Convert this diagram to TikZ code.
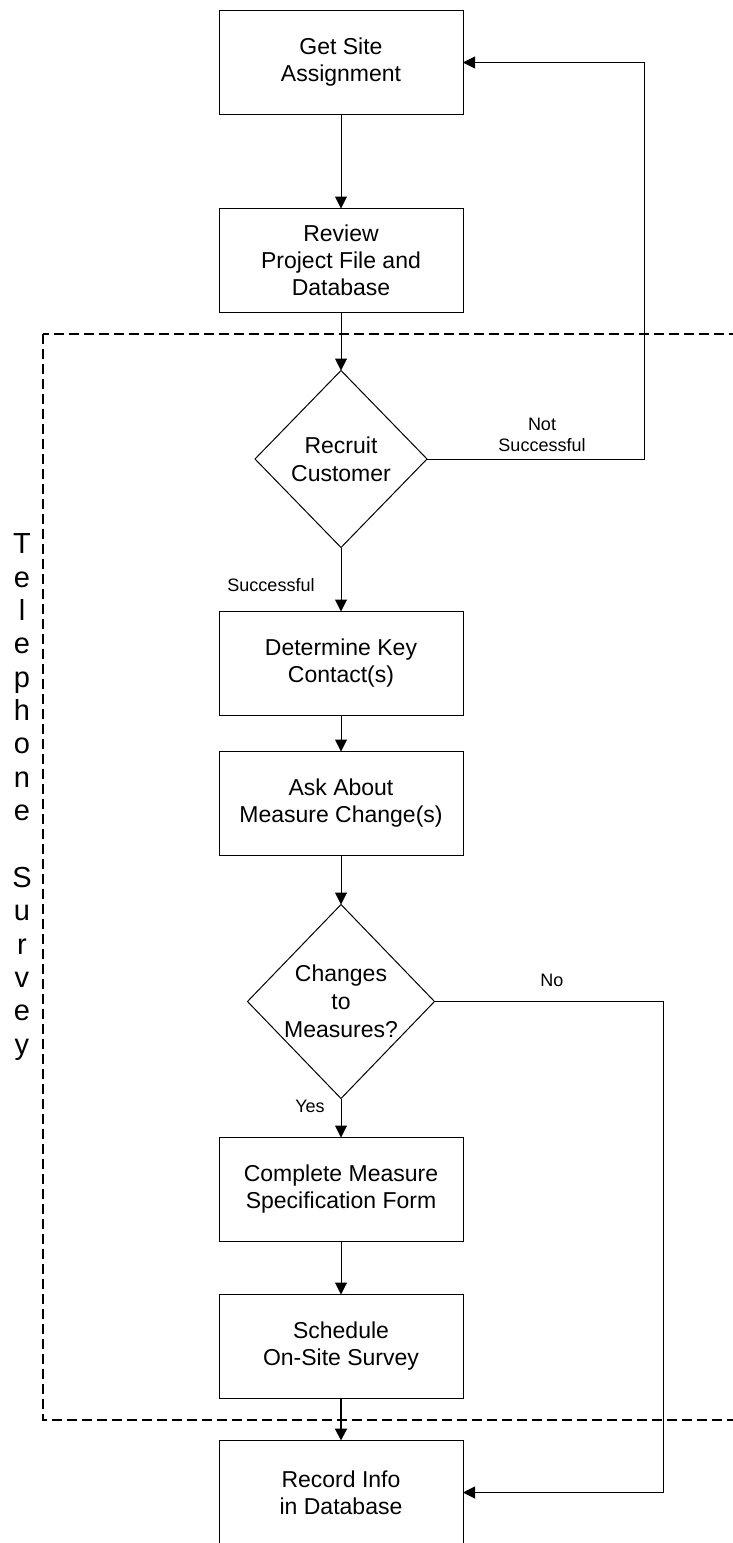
\documentclass[tikz,border=0pt]{standalone}
\usepackage{fontspec}
\setmainfont{Liberation Sans}
\usepackage{tikz}
\usetikzlibrary{positioning,shapes.geometric,arrows.meta}

\begin{document}
\begin{tikzpicture}[
        x=0.5pt, y=-0.5pt,
        node distance=30pt,
        box/.style={rectangle, draw, line width=0.5pt, minimum width=122pt, minimum height=52pt, inner sep=0pt, outer sep=0pt, align=center, font=\fontsize{11.5}{13.5}\selectfont},
        decision/.style={diamond, draw, line width=0.5pt, aspect=1, inner sep=0pt, outer sep=0pt, align=center, font=\fontsize{11.5}{14}\selectfont},
        lbl/.style={align=center, inner sep=0pt, font=\fontsize{9}{10.5}\selectfont},
        arrow/.style={-{Triangle[length=6pt,width=6pt]}, line width=0.5pt},
        survey/.style={dashed, dash pattern=on 5pt off 2.5pt, line width=0.7pt}
    ]
    \useasboundingbox (0,0) rectangle (733,1543);

    % Before the call
    \node[box] (get) at (341,62.5) {Get Site\\Assignment};
    \node[box, below=47pt of get] (review) {Review\\Project File and\\Database};

    % Telephone survey
    \node[decision, minimum width=86pt, minimum height=88.5pt, below=29pt of review] (recruit) {Recruit\\Customer};
    \node[box, below=32pt of recruit] (contact) {Determine Key\\Contact(s)};
    \node[box, below=18pt of contact] (ask) {Ask About\\Measure Change(s)};
    \node[decision, minimum width=93.5pt, minimum height=97pt, below=24.5pt of ask] (changes) {Changes\\to\\Measures?};
    \node[box, below=19.5pt of changes] (form) {Complete Measure\\Specification Form};
    \node[box, below=26.5pt of form] (schedule) {Schedule\\On-Site Survey};

    % After the survey
    \node[box, below=21pt of schedule] (record) {Record Info\\in Database};

    % Survey frame
    \draw[survey] (43,334) rectangle (745,1420);
    \node[align=center, inner sep=0pt, font=\fontsize{14.5}{16.67}\selectfont] (tel) at (22,797)
        {T\\e\\l\\e\\p\\h\\o\\n\\e\\ \\S\\u\\r\\v\\e\\y};

    % Arrows
    \coordinate (backx) at (644,0);
    \coordinate (nox) at (663,0);
    \draw[arrow] (get) -- (review);
    \draw[arrow] (review) -- (recruit);
    \draw[arrow] (recruit) -- (contact);
    \draw[arrow] (contact) -- (ask);
    \draw[arrow] (ask) -- (changes);
    \draw[arrow] (changes) -- (form);
    \draw[arrow] (form) -- (schedule);
    \draw[arrow, line width=1pt] (schedule) -- (record);
    \draw[arrow] (recruit.east) -- (recruit.east -| backx) |- (get.east);
    \draw[arrow] (changes.east) -- (changes.east -| nox) |- (record.east);

    \node[lbl] (notok) at (542,435) {Not\\Successful};
    \node[lbl] (ok) at (271,585) {Successful};
    \node[lbl] (no) at (552,980) {No};
    \node[lbl] (yes) at (310,1106) {Yes};

\end{tikzpicture}
\end{document}
